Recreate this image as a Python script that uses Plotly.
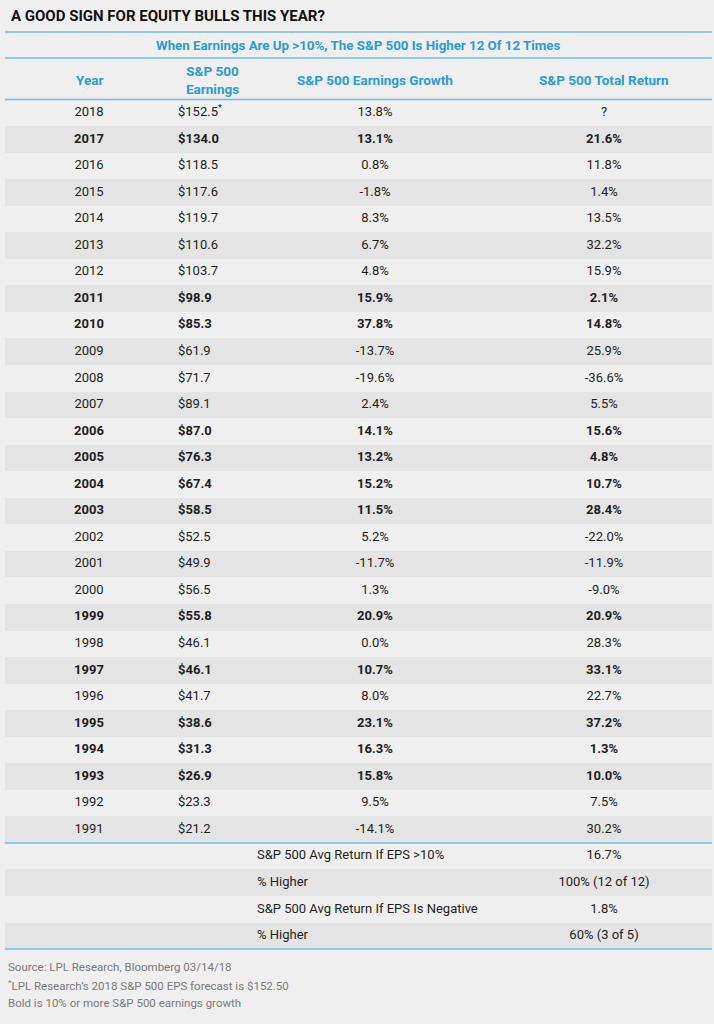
import plotly.graph_objects as go

years = [2018, 2017, 2016, 2015, 2014, 2013, 2012, 2011, 2010, 2009, 2008, 2007, 2006, 2005,
         2004, 2003, 2002, 2001, 2000, 1999, 1998, 1997, 1996, 1995, 1994, 1993, 1992, 1991]
earnings = [152.5, 134.0, 118.5, 117.6, 119.7, 110.6, 103.7, 98.9, 85.3, 61.9, 71.7, 89.1, 87.0, 76.3,
            67.4, 58.5, 52.5, 49.9, 56.5, 55.8, 46.1, 46.1, 41.7, 38.6, 31.3, 26.9, 23.3, 21.2]
growth = [13.8, 13.1, 0.8, -1.8, 8.3, 6.7, 4.8, 15.9, 37.8, -13.7, -19.6, 2.4, 14.1, 13.2,
          15.2, 11.5, 5.2, -11.7, 1.3, 20.9, 0.0, 10.7, 8.0, 23.1, 16.3, 15.8, 9.5, -14.1]
total_return = [None, 21.6, 11.8, 1.4, 13.5, 32.2, 15.9, 2.1, 14.8, 25.9, -36.6, 5.5, 15.6, 4.8,
                10.7, 28.4, -22.0, -11.9, -9.0, 20.9, 28.3, 33.1, 22.7, 37.2, 1.3, 10.0, 7.5, 30.2]

summary_labels = ["S&P 500 Avg Return If EPS >10%", "% Higher",
                  "S&P 500 Avg Return If EPS Is Negative", "% Higher"]
summary_values = ["16.7%", "100% (12 of 12)", "1.8%", "60% (3 of 5)"]

col_headers = ["Year", "S&P 500<br>Earnings", "S&P 500 Earnings Growth", "S&P 500 Total Return"]

title = "A GOOD SIGN FOR EQUITY BULLS THIS YEAR?"
subtitle = "When Earnings Are Up >10%, The S&P 500 Is Higher 12 Of 12 Times"
footnotes = ["Source: LPL Research, Bloomberg 03/14/18",
             "<sup>*</sup>LPL Research\u2019s 2018 S&P 500 EPS forecast is $152.50",
             "Bold is 10% or more S&P 500 earnings growth"]

# styling
FONT = "Roboto, Liberation Sans, sans-serif"
BG = "#efefef"
STRIPE = "#e4e4e4"
BLUE_TXT = "#2a9bd5"
BLUE_LINE = "#72bde0"
TXT = "#1e1e1e"
W, H = 714, 1024
TABLE_TOP = 99.5     # px, line under column headers
ROW_H = 26.55        # px per row
LEFT, RIGHT = 5, 712


def px_to_row(p):
    # pixel y -> row coordinate on the y axis (row i is centred on i)
    return (p - TABLE_TOP) / ROW_H - 0.5


n_data = len(years)
n_rows = n_data + len(summary_labels)
rows = list(range(n_data))
sum_rows = list(range(n_data, n_rows))


def fmt(s, bold):
    return f"<b>{s}</b>" if bold else s


bold = [r is not None and g >= 10 for g, r in zip(growth, total_return)]
year_txt = [fmt(str(y), b) for y, b in zip(years, bold)]
earn_txt = [fmt(f"${e:.1f}" + ("<sup>*</sup>" if r is None else ""), b)
            for e, r, b in zip(earnings, total_return, bold)]
growth_txt = [fmt(f"{g:.1f}%", b) for g, b in zip(growth, bold)]
ret_txt = [fmt("?" if r is None else f"{r:.1f}%", b) for r, b in zip(total_return, bold)]

fig = go.Figure()

# alternating row stripes
stripe_rows = [i for i in range(n_rows) if i % 2 == 1]
fig.add_trace(go.Bar(
    y=stripe_rows, x=[RIGHT - LEFT] * len(stripe_rows), base=LEFT,
    orientation="h", width=1, marker=dict(color=STRIPE, line=dict(width=0)),
    hoverinfo="skip"
))

cell_font = dict(family=FONT, size=13, color=TXT)
columns = [
    (89, year_txt, "middle center", rows),
    (178, earn_txt, "middle right", rows),
    (375, growth_txt, "middle center", rows),
    (604, ret_txt, "middle center", rows),
    (257, summary_labels, "middle right", sum_rows),
    (604, summary_values, "middle center", sum_rows),
]
for x, txt, pos, yy in columns:
    fig.add_trace(go.Scatter(
        x=[x] * len(txt), y=yy, text=txt, mode="text",
        textposition=pos, textfont=cell_font, hoverinfo="skip"
    ))

# column headers
for x, h in zip([89, 212, 375, 604], col_headers):
    fig.add_annotation(x=x, y=px_to_row(79.5), xref="x", yref="y", text=f"<b>{h}</b>",
                       showarrow=False, xanchor="center", yanchor="middle",
                       font=dict(family=FONT, size=13.5, color=BLUE_TXT))

fig.add_annotation(x=(LEFT + RIGHT) / 2, y=px_to_row(45), xref="x", yref="y",
                   text=f"<b>{subtitle}</b>", showarrow=False,
                   font=dict(family=FONT, size=13.3, color=BLUE_TXT))

fig.add_annotation(x=9, y=px_to_row(15.5), xref="x", yref="y", text=f"<b>{title}</b>",
                   showarrow=False, xanchor="left", yanchor="middle",
                   font=dict(family=FONT, size=15, color="#111111"))

for k, line in enumerate(footnotes):
    fig.add_annotation(x=6, y=px_to_row(967 + 18 * k), xref="x", yref="y", text=line,
                       showarrow=False, xanchor="left", yanchor="middle",
                       font=dict(family=FONT, size=11.5, color="#7a7a7a"))

# blue rules
for p in [32, 58, TABLE_TOP, TABLE_TOP + n_data * ROW_H, TABLE_TOP + n_rows * ROW_H]:
    fig.add_shape(type="line", xref="x", yref="y", x0=LEFT, x1=RIGHT,
                  y0=px_to_row(p), y1=px_to_row(p),
                  line=dict(color=BLUE_LINE, width=1.5))

fig.update_layout(
    width=W, height=H, margin=dict(l=0, r=0, t=0, b=0),
    paper_bgcolor=BG, plot_bgcolor=BG, showlegend=False, bargap=0,
    xaxis=dict(range=[0, W], visible=False, fixedrange=True),
    yaxis=dict(range=[px_to_row(H), px_to_row(0)], visible=False, fixedrange=True),
)

# drop the browser's default 8px body margin so the figure sits at the page corner
fig.write_html("out.html", config={"displayModeBar": False},
               post_script="document.body.style.margin='0';document.body.style.background='#efefef';")
